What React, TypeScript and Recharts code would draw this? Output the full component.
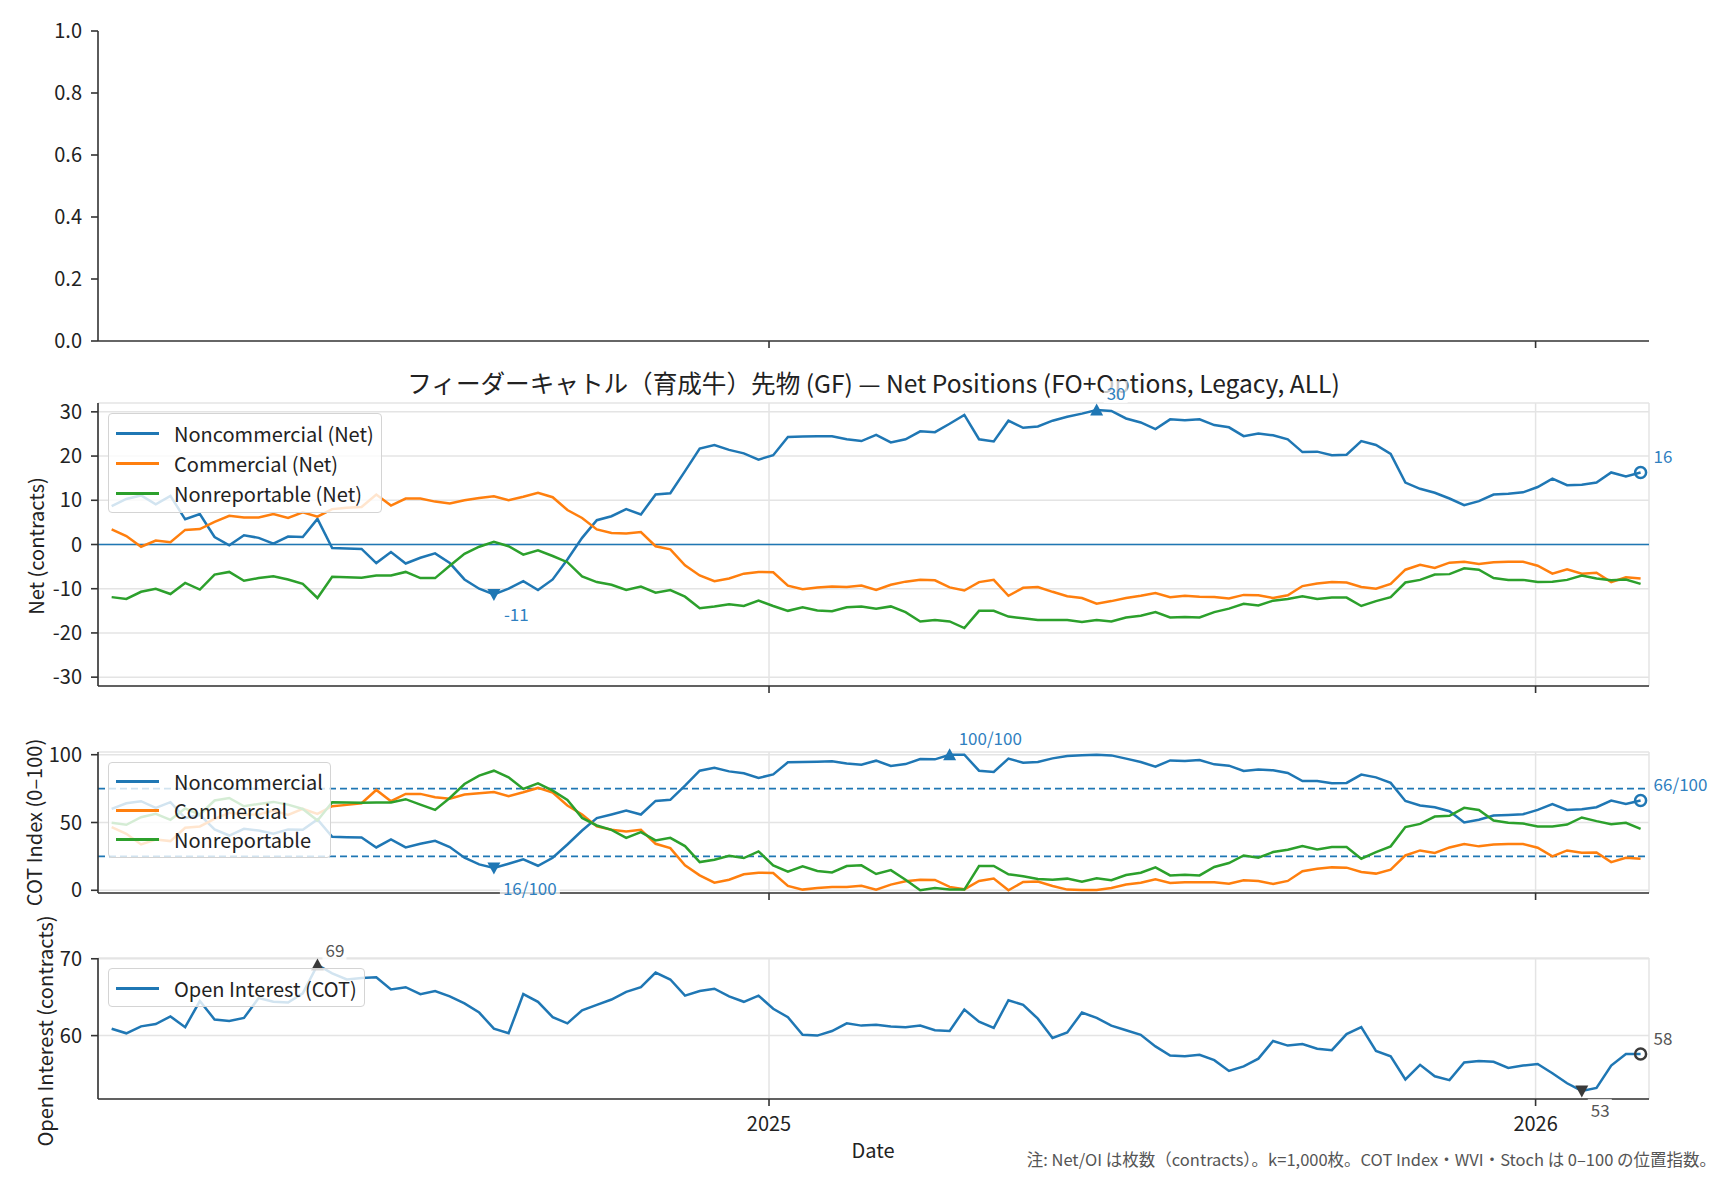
import React from 'react';
import { LineChart, Line, XAxis, YAxis, CartesianGrid, ReferenceLine, ReferenceDot, Legend } from 'recharts';

// weekly COT release dates (Fridays), first one 2024-02-23
const DAY = 86400000;
const FIRST_DATE = Date.UTC(2024, 1, 23);
const T2025 = Date.UTC(2025, 0, 1);
const T2026 = Date.UTC(2026, 0, 1);
const X_MIN = T2025 - 319.5 * DAY;
const X_MAX = T2025 + 419 * DAY;
const xTicks = [T2025, T2026];

// Net positions (contracts, thousands)
const ncNet = [
  8.7, 10.3, 11.1, 9.1, 11.0, 5.7, 6.9, 1.7, -0.2, 2.1, 1.5, 0.2, 1.8, 1.7, 5.8, -0.8, -0.9, -1.0, -4.2, -1.7,
  -4.3, -3.0, -2.0, -4.2, -7.9, -10.0, -11.3, -10.0, -8.3, -10.3, -7.9, -3.4, 1.5, 5.5, 6.4, 8.0, 6.8, 11.3, 11.6, 16.6,
  21.7, 22.5, 21.4, 20.6, 19.2, 20.2, 24.3, 24.4, 24.5, 24.5, 23.8, 23.4, 24.8, 23.1, 23.8, 25.6, 25.4, 27.3, 29.3, 23.8,
  23.3, 28.0, 26.4, 26.7, 28.0, 28.9, 29.6, 30.4, 30.2, 28.5, 27.6, 26.1, 28.3, 28.1, 28.3, 27.0, 26.5, 24.5, 25.1, 24.7,
  23.8, 20.9, 21.0, 20.2, 20.3, 23.4, 22.5, 20.5, 14.0, 12.6, 11.7, 10.4, 8.9, 9.8, 11.3, 11.5, 11.8, 13.0, 14.9, 13.4,
  13.5, 14.0, 16.3, 15.4, 16.3,
];
const cNet = [
  3.4, 1.9, -0.5, 0.9, 0.5, 3.3, 3.5, 5.1, 6.5, 6.1, 6.1, 6.9, 6.0, 7.3, 6.3, 8.0, 8.3, 8.5, 11.3, 8.8,
  10.4, 10.4, 9.7, 9.3, 10.0, 10.5, 10.9, 10.0, 10.8, 11.7, 10.7, 7.8, 6.0, 3.4, 2.6, 2.5, 2.8, -0.4, -1.1, -4.7,
  -7.0, -8.3, -7.7, -6.6, -6.2, -6.3, -9.3, -10.1, -9.7, -9.5, -9.6, -9.3, -10.3, -9.1, -8.4, -8.0, -8.1, -9.7, -10.4, -8.5,
  -8.0, -11.6, -9.8, -9.6, -10.7, -11.7, -12.1, -13.4, -12.8, -12.1, -11.6, -11.0, -11.9, -11.6, -11.8, -11.9, -12.2, -11.4, -11.5, -12.1,
  -11.5, -9.4, -8.8, -8.5, -8.6, -9.6, -10.0, -8.9, -5.7, -4.6, -5.3, -4.1, -3.9, -4.4, -4.0, -3.9, -3.9, -4.8, -6.6, -5.6,
  -6.6, -6.4, -8.5, -7.4, -7.7,
];
const nrNet = [
  -11.9, -12.3, -10.7, -10.0, -11.2, -8.7, -10.2, -6.8, -6.2, -8.2, -7.6, -7.2, -7.9, -8.9, -12.1, -7.3, -7.4, -7.5, -7.0, -7.0,
  -6.2, -7.6, -7.6, -4.8, -2.1, -0.5, 0.6, -0.4, -2.3, -1.3, -2.6, -4.0, -7.2, -8.5, -9.1, -10.3, -9.5, -10.9, -10.3, -11.8,
  -14.4, -14.0, -13.5, -13.9, -12.7, -13.9, -15.0, -14.2, -14.9, -15.1, -14.2, -14.0, -14.5, -14.0, -15.3, -17.4, -17.1, -17.4, -18.9, -15.0,
  -15.0, -16.3, -16.7, -17.1, -17.1, -17.1, -17.5, -17.1, -17.4, -16.5, -16.1, -15.3, -16.5, -16.4, -16.5, -15.3, -14.5, -13.4, -13.8, -12.7,
  -12.3, -11.7, -12.3, -12.0, -12.0, -13.9, -12.8, -11.9, -8.6, -8.0, -6.8, -6.7, -5.4, -5.7, -7.6, -8.0, -8.0, -8.5, -8.4, -8.0,
  -7.0, -7.7, -8.1, -7.9, -8.9,
];

// COT Index (0-100)
const ncIdx = [
  60.0, 64.2, 65.7, 60.8, 65.0, 53.2, 55.6, 44.9, 40.4, 45.3, 44.1, 41.7, 44.9, 44.6, 52.2, 39.5, 39.2, 39.0, 31.6, 37.5,
  31.6, 34.3, 36.5, 31.9, 24.0, 19.1, 16.4, 19.6, 22.8, 18.1, 24.0, 33.8, 44.1, 53.2, 55.9, 58.8, 55.9, 65.9, 66.7, 77.2,
  88.2, 90.4, 87.7, 86.3, 82.8, 85.5, 94.4, 94.6, 94.9, 95.1, 93.6, 92.6, 95.6, 91.7, 93.1, 96.8, 96.6, 100, 100, 88.2,
  87.3, 97.1, 94.1, 94.6, 97.3, 99.0, 99.6, 100, 99.5, 97.1, 94.6, 91.2, 95.8, 95.3, 96.1, 92.9, 91.9, 88.0, 89.0, 88.5,
  86.5, 80.6, 80.6, 78.9, 79.2, 85.3, 83.3, 79.2, 65.9, 62.5, 61.3, 58.3, 50.0, 52.0, 55.1, 55.6, 56.1, 59.3, 63.5, 59.3,
  59.8, 61.3, 66.2, 63.7, 66.2,
];
const cIdx = [
  46.6, 41.7, 33.8, 37.5, 36.3, 46.1, 47.1, 52.7, 57.1, 55.9, 55.9, 58.8, 55.6, 60.0, 56.4, 62.0, 63.0, 64.2, 74.0, 65.7,
  71.1, 71.1, 68.6, 67.6, 70.6, 71.6, 72.5, 69.4, 72.3, 75.5, 72.1, 62.5, 55.9, 47.1, 44.6, 43.4, 44.6, 34.3, 31.1, 18.4,
  11.0, 5.6, 7.8, 11.8, 13.0, 12.7, 3.2, 0.5, 1.7, 2.5, 2.5, 3.4, 0.5, 4.2, 6.6, 7.8, 7.6, 2.5, 0.7, 6.9,
  8.6, 0.0, 6.1, 6.4, 3.2, 0.5, 0.3, 0.2, 1.7, 4.2, 5.6, 8.1, 5.4, 5.9, 5.9, 5.9, 4.9, 7.4, 6.9, 4.7,
  6.9, 14.0, 15.9, 16.9, 16.7, 13.5, 12.3, 15.2, 25.7, 29.4, 27.5, 31.6, 34.1, 32.4, 33.8, 34.1, 34.1, 31.4, 25.0, 29.4,
  27.7, 27.9, 20.8, 24.0, 23.3,
];
const nrIdx = [
  49.8, 48.3, 53.9, 56.4, 52.0, 60.3, 55.9, 66.2, 68.1, 62.0, 63.7, 65.2, 63.2, 60.0, 51.5, 65.0, 64.7, 64.5, 64.7, 64.7,
  67.2, 63.2, 59.3, 68.1, 78.4, 84.6, 88.2, 83.3, 74.8, 78.9, 73.5, 66.7, 53.4, 47.8, 44.6, 38.7, 42.9, 36.8, 38.7, 32.6,
  20.8, 22.5, 25.5, 23.8, 28.7, 18.4, 13.7, 17.6, 14.2, 13.2, 17.9, 18.4, 12.0, 14.9, 7.8, 0.0, 1.7, 0.5, 0.5, 17.9,
  17.9, 11.8, 10.3, 8.3, 7.8, 8.6, 6.4, 8.8, 7.4, 11.3, 13.0, 16.9, 11.0, 11.5, 11.0, 17.2, 20.1, 25.7, 24.0, 28.2,
  29.9, 32.6, 30.1, 31.9, 31.9, 23.3, 28.2, 32.4, 46.6, 49.0, 54.4, 54.9, 60.8, 59.3, 51.5, 49.8, 49.3, 47.1, 47.1, 48.5,
  53.7, 51.0, 48.8, 49.8, 45.3,
];

// Open interest (contracts, thousands)
const openInterest = [
  60.9, 60.3, 61.2, 61.5, 62.5, 61.1, 64.5, 62.1, 61.9, 62.3, 64.9, 64.4, 64.3, 65.5, 69.2, 68.1, 67.3, 67.5, 67.6, 66.0,
  66.3, 65.4, 65.8, 65.1, 64.2, 63.0, 60.9, 60.3, 65.4, 64.4, 62.4, 61.6, 63.3, 64.0, 64.7, 65.7, 66.3, 68.2, 67.3, 65.2,
  65.8, 66.1, 65.1, 64.4, 65.2, 63.5, 62.4, 60.1, 60.0, 60.6, 61.6, 61.3, 61.4, 61.2, 61.1, 61.3, 60.7, 60.6, 63.4, 61.8,
  61.0, 64.6, 64.0, 62.2, 59.7, 60.4, 63.0, 62.3, 61.3, 60.7, 60.1, 58.6, 57.4, 57.3, 57.5, 56.8, 55.4, 56.0, 57.0, 59.3,
  58.7, 58.9, 58.3, 58.1, 60.2, 61.1, 58.0, 57.3, 54.3, 56.2, 54.7, 54.2, 56.5, 56.7, 56.6, 55.8, 56.1, 56.3, 55.1, 53.8,
  52.8, 53.2, 56.1, 57.6, 57.6,
];

const dates = ncNet.map((_, i) => FIRST_DATE + i * 7 * DAY);

const C_BLUE = '#1f77b4';
const C_ORANGE = '#ff7f0e';
const C_GREEN = '#2ca02c';
const ANN_BLUE = '#2f80c0';
const ANN_GREY = '#555';
const MARK_DARK = '#3a3a3a';

const netSeries = [
  { key: 'ncNet', name: 'Noncommercial (Net)', color: C_BLUE },
  { key: 'cNet', name: 'Commercial (Net)', color: C_ORANGE },
  { key: 'nrNet', name: 'Nonreportable (Net)', color: C_GREEN },
];
const idxSeries = [
  { key: 'ncIdx', name: 'Noncommercial', color: C_BLUE },
  { key: 'cIdx', name: 'Commercial', color: C_ORANGE },
  { key: 'nrIdx', name: 'Nonreportable', color: C_GREEN },
];
const oiSeries = [{ key: 'oi', name: 'Open Interest (COT)', color: C_BLUE }];

const rows = dates.map((t, i) => ({
  t,
  ncNet: ncNet[i],
  cNet: cNet[i],
  nrNet: nrNet[i],
  ncIdx: ncIdx[i],
  cIdx: cIdx[i],
  nrIdx: nrIdx[i],
  oi: openInterest[i],
}));

const argMax = (a: number[]) => a.indexOf(Math.max(...a));
const argMin = (a: number[]) => a.indexOf(Math.min(...a));
const LAST = ncNet.length - 1;

const FONT = '"Noto Sans CJK JP", "Noto Sans", sans-serif';
const AXIS = '#333';
const GRID = '#e4e4e4';
const tickStyle = { fill: '#222', fontSize: 20 };
const W = 1728;
const MARGIN_L = 8;
const Y_W = 90;
const MARGIN_R = 79;

const Annot = (props: any) => {
  const { cx = 0, cy = 0, kind, color, textColor, text, dx, dy } = props;
  let mark = null;
  if (kind === 'up') {
    mark = <polygon points={`${cx - 6.5},${cy + 5.5} ${cx + 6.5},${cy + 5.5} ${cx},${cy - 6.5}`} fill={color} />;
  } else if (kind === 'down') {
    mark = <polygon points={`${cx - 6.5},${cy - 5.5} ${cx + 6.5},${cy - 5.5} ${cx},${cy + 6.5}`} fill={color} />;
  } else {
    mark = <circle cx={cx} cy={cy} r={5.5} fill="none" stroke={color} strokeWidth={2.5} />;
  }
  const w = text.length * 9 + 6;
  return (
    <g>
      {mark}
      <rect x={cx + dx - 3} y={cy + dy - 11} width={w} height={22} fill="#fff" fillOpacity={0.75} />
      <text x={cx + dx} y={cy + dy} dominantBaseline="central" fontSize={17} fill={textColor}>
        {text}
      </text>
    </g>
  );
};

// axis titles take their own position props (recharts passes x/y to labels)
const YTitle = ({ posX, posY, text }: any) => (
  <text
    x={posX}
    y={posY}
    transform={`rotate(-90, ${posX}, ${posY})`}
    textAnchor="middle"
    dominantBaseline="central"
    fontSize={20}
    fill="#222"
  >
    {text}
  </text>
);

const XTitle = ({ posX, posY, text }: any) => (
  <text x={posX} y={posY} textAnchor="middle" dominantBaseline="central" fontSize={20} fill="#222">
    {text}
  </text>
);

const makeLegend = (items: { name: string; color: string }[], rowH: number) => () => (
  <div
    style={{
      background: 'rgba(255,255,255,0.8)',
      border: '1px solid #d4d4d4',
      borderRadius: 4,
      padding: '4px 7px 3px 7px',
      fontFamily: FONT,
    }}
  >
    {items.map((it) => (
      <div key={it.name} style={{ display: 'flex', alignItems: 'center', height: rowH }}>
        <span style={{ display: 'inline-block', width: 43, height: 3, background: it.color, marginRight: 15 }} />
        <span style={{ fontSize: 20, color: '#222', whiteSpace: 'nowrap' }}>{it.name}</span>
      </div>
    ))}
  </div>
);

// common axes: bottom/top x and left/right y so the panel has a full box
const frame = (
  yDomain: [number, number],
  yTicks: number[],
  yFmt: (v: number) => string,
  showX: boolean,
  xHeight: number,
  yLabel: any,
  xLabel: any = null
) => [
  <XAxis
    key="xb"
    type="number"
    dataKey="t"
    domain={[X_MIN, X_MAX]}
    ticks={xTicks}
    interval={0}
    height={xHeight}
    tickSize={7}
    tickMargin={11}
    tick={tickStyle}
    stroke={AXIS}
    strokeWidth={1.6}
    tickFormatter={(v: number) => (showX ? String(new Date(v).getUTCFullYear()) : '')}
    label={xLabel}
    allowDataOverflow
  />,
  <XAxis
    key="xt"
    xAxisId="top"
    orientation="top"
    type="number"
    domain={[X_MIN, X_MAX]}
    height={0}
    tick={false}
    tickLine={false}
    stroke={AXIS}
    strokeWidth={1.6}
    allowDataOverflow
  />,
  <YAxis
    key="yl"
    type="number"
    domain={yDomain}
    ticks={yTicks}
    interval={0}
    width={Y_W}
    tickSize={7}
    tickMargin={9}
    tick={tickStyle}
    stroke={AXIS}
    strokeWidth={1.6}
    tickFormatter={yFmt}
    label={yLabel}
    allowDataOverflow
  />,
  <YAxis
    key="yr"
    yAxisId="right"
    orientation="right"
    type="number"
    domain={yDomain}
    width={0}
    tick={false}
    tickLine={false}
    stroke={AXIS}
    strokeWidth={1.6}
    allowDataOverflow
  />,
];

const abs = (top: number): React.CSSProperties => ({ position: 'absolute', left: 0, top });

export default function App() {
  const ncMaxI = argMax(ncNet);
  const ncMinI = argMin(ncNet);
  const idxMaxI = argMax(ncIdx);
  const idxMinI = argMin(ncIdx);
  const oiMaxI = argMax(openInterest);
  const oiMinI = argMin(openInterest);

  return (
    <div style={{ position: 'absolute', left: 0, top: 0, width: W, height: 1180, background: '#fff', fontFamily: FONT, overflow: 'hidden' }}>
      {/* empty top panel */}
      <div style={abs(0)}>
        <LineChart width={W} height={371} data={rows} margin={{ top: 31, right: MARGIN_R, bottom: 0, left: MARGIN_L }}>
          {frame([0, 1], [0, 0.2, 0.4, 0.6, 0.8, 1], (v) => v.toFixed(1), false, 30, null)}
        </LineChart>
      </div>

      <div
        style={{
          position: 'absolute',
          left: 98,
          width: 1551,
          top: 364,
          textAlign: 'center',
          fontSize: 24.6,
          color: '#222',
          whiteSpace: 'nowrap',
        }}
      >
        フィーダーキャトル（育成牛）先物 (GF) — Net Positions (FO+Options, Legacy, ALL)
      </div>

      {/* Net positions */}
      <div style={abs(370)}>
        <LineChart width={W} height={346} data={rows} margin={{ top: 33, right: MARGIN_R, bottom: 0, left: MARGIN_L }}>
          <CartesianGrid stroke={GRID} strokeWidth={1.5} />
          {frame([-32, 32], [-30, -20, -10, 0, 10, 20, 30], (v) => String(v), false, 30, <YTitle posX={35} posY={176} text="Net (contracts)" />)}
          <ReferenceLine y={0} stroke={C_BLUE} strokeWidth={1.6} />
          {netSeries.map((s) => (
            <Line key={s.key} type="linear" dataKey={s.key} name={s.name} stroke={s.color} strokeWidth={2.5} dot={false} isAnimationActive={false} />
          ))}
          <ReferenceDot
            x={dates[ncMinI]}
            y={ncNet[ncMinI]}
            r={6}
            ifOverflow="visible"
            shape={(p: any) => <Annot {...p} kind="down" color={C_BLUE} textColor={ANN_BLUE} text={String(Math.round(ncNet[ncMinI]))} dx={10} dy={19} />}
          />
          <ReferenceDot
            x={dates[ncMaxI]}
            y={ncNet[ncMaxI]}
            r={6}
            ifOverflow="visible"
            shape={(p: any) => <Annot {...p} kind="up" color={C_BLUE} textColor={ANN_BLUE} text={String(Math.round(ncNet[ncMaxI]))} dx={10} dy={-18} />}
          />
          <ReferenceDot
            x={dates[LAST]}
            y={ncNet[LAST]}
            r={6}
            ifOverflow="visible"
            shape={(p: any) => <Annot {...p} kind="circle" color={C_BLUE} textColor={ANN_BLUE} text={String(Math.round(ncNet[LAST]))} dx={13} dy={-17} />}
          />
          <Legend
            layout="vertical"
            align="center"
            verticalAlign="middle"
            content={makeLegend(netSeries, 30.3)}
            wrapperStyle={{ left: 108, top: 43, width: 'auto', height: 'auto' }}
          />
        </LineChart>
      </div>

      {/* COT index */}
      <div style={abs(720)}>
        <LineChart width={W} height={203} data={rows} margin={{ top: 32, right: MARGIN_R, bottom: 0, left: MARGIN_L }}>
          <CartesianGrid stroke={GRID} strokeWidth={1.5} />
          {frame([-2, 102], [0, 50, 100], (v) => String(v), false, 30, <YTitle posX={33} posY={102.5} text="COT Index (0–100)" />)}
          <ReferenceLine y={75} stroke={C_BLUE} strokeWidth={1.8} strokeDasharray="7 4" />
          <ReferenceLine y={25} stroke={C_BLUE} strokeWidth={1.8} strokeDasharray="7 4" />
          {idxSeries.map((s) => (
            <Line key={s.key} type="linear" dataKey={s.key} name={s.name} stroke={s.color} strokeWidth={2.5} dot={false} isAnimationActive={false} />
          ))}
          <ReferenceDot
            x={dates[idxMinI]}
            y={ncIdx[idxMinI]}
            r={6}
            ifOverflow="visible"
            shape={(p: any) => <Annot {...p} kind="down" color={C_BLUE} textColor={ANN_BLUE} text={`${Math.round(ncIdx[idxMinI])}/100`} dx={9} dy={19} />}
          />
          <ReferenceDot
            x={dates[idxMaxI]}
            y={ncIdx[idxMaxI]}
            r={6}
            ifOverflow="visible"
            shape={(p: any) => <Annot {...p} kind="up" color={C_BLUE} textColor={ANN_BLUE} text={`${Math.round(ncIdx[idxMaxI])}/100`} dx={9} dy={-17} />}
          />
          <ReferenceDot
            x={dates[LAST]}
            y={ncIdx[LAST]}
            r={6}
            ifOverflow="visible"
            shape={(p: any) => <Annot {...p} kind="circle" color={C_BLUE} textColor={ANN_BLUE} text={`${Math.round(ncIdx[LAST])}/100`} dx={13} dy={-17} />}
          />
          <Legend
            layout="vertical"
            align="center"
            verticalAlign="middle"
            content={makeLegend(idxSeries, 29)}
            wrapperStyle={{ left: 108, top: 42, width: 'auto', height: 'auto' }}
          />
        </LineChart>
      </div>

      {/* Open interest */}
      <div style={abs(905)}>
        <LineChart width={W} height={272} data={rows} margin={{ top: 53, right: MARGIN_R, bottom: 0, left: MARGIN_L }}>
          <CartesianGrid stroke={GRID} strokeWidth={1.5} />
          {frame(
            [51.75, 70.1],
            [60, 70],
            (v) => String(v),
            true,
            78,
            <YTitle posX={44} posY={126} text="Open Interest (contracts)" />,
            <XTitle posX={873} posY={244} text="Date" />
          )}
          {oiSeries.map((s) => (
            <Line key={s.key} type="linear" dataKey={s.key} name={s.name} stroke={s.color} strokeWidth={2.5} dot={false} isAnimationActive={false} />
          ))}
          <ReferenceDot
            x={dates[oiMaxI]}
            y={openInterest[oiMaxI]}
            r={6}
            ifOverflow="visible"
            shape={(p: any) => <Annot {...p} kind="up" color={MARK_DARK} textColor={ANN_GREY} text={String(Math.round(openInterest[oiMaxI]))} dx={8} dy={-15} />}
          />
          <ReferenceDot
            x={dates[oiMinI]}
            y={openInterest[oiMinI]}
            r={6}
            ifOverflow="visible"
            shape={(p: any) => <Annot {...p} kind="down" color={MARK_DARK} textColor={ANN_GREY} text={String(Math.round(openInterest[oiMinI]))} dx={9} dy={19} />}
          />
          <ReferenceDot
            x={dates[LAST]}
            y={openInterest[LAST]}
            r={6}
            ifOverflow="visible"
            shape={(p: any) => <Annot {...p} kind="circle" color={MARK_DARK} textColor={ANN_GREY} text={String(Math.round(openInterest[LAST]))} dx={13} dy={-17} />}
          />
          <Legend
            layout="vertical"
            align="center"
            verticalAlign="middle"
            content={makeLegend(oiSeries, 30)}
            wrapperStyle={{ left: 108, top: 63, width: 'auto', height: 'auto' }}
          />
        </LineChart>
      </div>

      <div
        style={{
          position: 'absolute',
          right: 12,
          top: 1147,
          fontSize: 16.5,
          color: '#555',
          whiteSpace: 'nowrap',
        }}
      >
        注: Net/OI は枚数（contracts）。k=1,000枚。COT Index・WVI・Stoch は 0–100 の位置指数。
      </div>
    </div>
  );
}
